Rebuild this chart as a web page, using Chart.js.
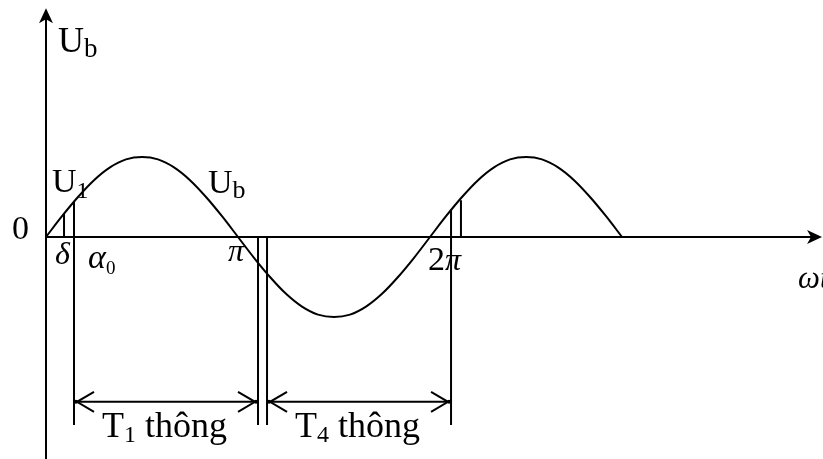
<!DOCTYPE html>
<html>
<head>
<meta charset="utf-8">
<script src="https://cdn.jsdelivr.net/npm/chart.js@4"></script>
<style>
  body { margin: 0; background: #fff; }
  #wrap { width: 823px; height: 459px; position: relative; }
</style>
</head>
<body>
<div id="wrap"><canvas id="waveChart"></canvas></div>
<script>
// U_b curve, every 15 degrees (1 = peak height)
var curveDeg = [0, 15, 30, 45, 60, 75, 90, 105, 120, 135, 150, 165, 180,
  195, 210, 225, 240, 255, 270, 285, 300, 315, 330, 345, 360,
  375, 390, 405, 420, 435, 450, 465, 480, 495, 510, 525, 540]
var curveVal = [0, 0.26, 0.5, 0.71, 0.87, 0.97, 1, 0.97, 0.87, 0.71, 0.5, 0.26, 0,
  -0.26, -0.5, -0.71, -0.87, -0.97, -1, -0.97, -0.87, -0.71, -0.5, -0.26, 0,
  0.26, 0.5, 0.71, 0.87, 0.97, 1, 0.97, 0.87, 0.71, 0.5, 0.26, 0]

// vertical marker lines (delta, alpha0, near pi, near 2pi)
var markerDeg = [16.9, 26.25, 198.75, 207.2, 379.7, 389]
var markerTop = [0.29, 0.44, 0, 0, 0.34, 0.46]
var markerBottom = [0, -2.35, -2.35, -2.35, -2.35, 0]

// conduction intervals
var spanNames = ['1', '4']
var spanStart = [26.25, 207.2]
var spanEnd = [198.75, 379.7]
var spanLevel = -2.06

// axes
var xAxisEnd = 727.5
var yAxisTop = 2.86
var yAxisBottom = -2.8

var FONT = "'Liberation Serif', 'Times New Roman', serif"

var datasets = []

datasets.push({
  data: curveDeg.map((d, i) => ({ x: d, y: curveVal[i] })),
  borderColor: '#000',
  borderWidth: 2,
  tension: 0.4,
  cubicInterpolationMode: 'monotone',
})

// x axis and y axis
datasets.push({ data: [{ x: 0, y: 0 }, { x: xAxisEnd - 8, y: 0 }], borderColor: '#000', borderWidth: 2 })
datasets.push({ data: [{ x: 0, y: yAxisBottom }, { x: 0, y: yAxisTop - 0.1 }], borderColor: '#000', borderWidth: 2 })

markerDeg.forEach(function (d, i) {
  datasets.push({
    data: [{ x: d, y: markerTop[i] }, { x: d, y: markerBottom[i] }],
    borderColor: '#000',
    borderWidth: 2,
  })
})

spanStart.forEach(function (s, i) {
  datasets.push({
    data: [{ x: s, y: spanLevel }, { x: spanEnd[i], y: spanLevel }],
    borderColor: '#000',
    borderWidth: 2,
  })
})

function drawParts(ctx, parts, x, y) {
  parts.forEach(function (p) {
    ctx.font = (p.italic ? 'italic ' : '') + p.size + 'px ' + FONT
    ctx.fillText(p.t, x, y + (p.dy || 0))
    x += ctx.measureText(p.t).width + (p.gap || 0)
  })
}

var decorPlugin = {
  id: 'decor',
  afterDatasetsDraw(chart) {
    var ctx = chart.ctx
    var xs = chart.scales.x
    var ys = chart.scales.y
    var px = (v) => xs.getPixelForValue(v)
    var py = (v) => ys.getPixelForValue(v)
    ctx.save()
    ctx.fillStyle = '#000'
    ctx.strokeStyle = '#000'

    // y axis arrow
    var ax = px(0), ay = py(yAxisTop)
    ctx.beginPath()
    ctx.moveTo(ax, ay)
    ctx.lineTo(ax - 7, ay + 15)
    ctx.lineTo(ax, ay + 11)
    ctx.lineTo(ax + 7, ay + 15)
    ctx.closePath()
    ctx.fill()

    // x axis arrow
    var bx = px(xAxisEnd), by = py(0)
    ctx.beginPath()
    ctx.moveTo(bx, by)
    ctx.lineTo(bx - 15, by - 7)
    ctx.lineTo(bx - 11, by)
    ctx.lineTo(bx - 15, by + 7)
    ctx.closePath()
    ctx.fill()

    // dimension arrow heads + labels
    ctx.lineWidth = 2
    spanStart.forEach(function (s, i) {
      var l = px(s), r = px(spanEnd[i]), y = py(spanLevel)
      ctx.beginPath()
      ctx.moveTo(l + 20, y - 10)
      ctx.lineTo(l + 3, y)
      ctx.lineTo(l + 20, y + 10)
      ctx.moveTo(r - 20, y - 10)
      ctx.lineTo(r - 3, y)
      ctx.lineTo(r - 20, y + 10)
      ctx.stroke()
      ctx.beginPath()
      ctx.arc(l + 2, y, 2, 0, Math.PI * 2)
      ctx.arc(r - 2, y, 2, 0, Math.PI * 2)
      ctx.fill()
      drawParts(ctx, [
        { t: 'T', size: 36 },
        { t: spanNames[i], size: 24, dy: 5, gap: 9 },
        { t: 'thông', size: 36 },
      ], l + 28, py(-2.5))
    })

    ctx.textBaseline = 'alphabetic'
    drawParts(ctx, [{ t: 'U', size: 36 }, { t: 'b', size: 27, dy: 5 }], px(11.25), py(2.3125))
    drawParts(ctx, [{ t: 'U', size: 34 }, { t: '1', size: 24, dy: 6 }], px(5.6), py(0.5625))
    drawParts(ctx, [{ t: 'U', size: 34 }, { t: 'b', size: 26, dy: 5 }], px(151.9), py(0.55))
    drawParts(ctx, [{ t: '0', size: 34 }], px(-31.9), py(-0.025))
    drawParts(ctx, [{ t: 'δ', size: 32, italic: true }], px(8.4), py(-0.3375))
    drawParts(ctx, [{ t: 'α', size: 34, italic: true }, { t: '0', size: 19, dy: 6 }], px(39.4), py(-0.3875))
    drawParts(ctx, [{ t: 'π', size: 32, italic: true }], px(170.6), py(-0.3))
    drawParts(ctx, [{ t: '2', size: 34 }, { t: 'π', size: 32, italic: true }], px(358.1), py(-0.4125))
    drawParts(ctx, [{ t: 'ω', size: 31, italic: true }, { t: 't', size: 31, italic: true }], px(705), py(-0.6375))
    ctx.restore()
  },
}

new Chart(document.getElementById('waveChart'), {
  type: 'scatter',
  data: { datasets: datasets },
  options: {
    responsive: true,
    maintainAspectRatio: false,
    animation: false,
    showLine: true,
    layout: { padding: 0 },
    elements: { point: { radius: 0, hoverRadius: 0 } },
    scales: {
      x: { type: 'linear', min: -43.125, max: 728.4, display: false },
      y: { type: 'linear', min: -2.775, max: 2.9625, display: false },
    },
    plugins: { legend: { display: false }, tooltip: { enabled: false } },
  },
  plugins: [decorPlugin],
})
</script>
</body>
</html>
